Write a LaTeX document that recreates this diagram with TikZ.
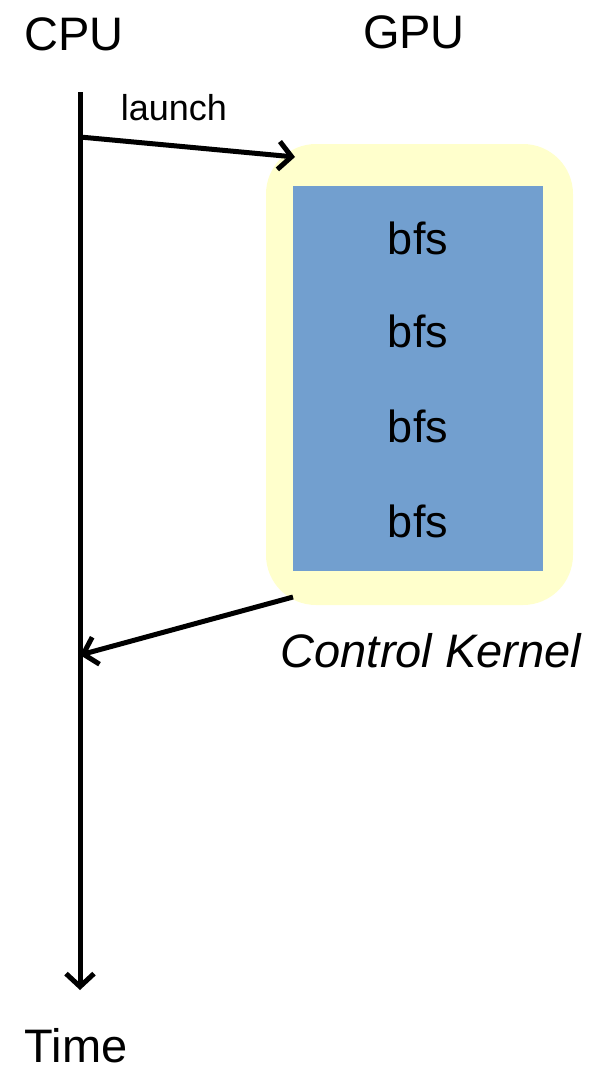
\documentclass[tikz,border=0pt]{standalone}
\usepackage{fontspec}
\setmainfont{Liberation Sans}
\usetikzlibrary{arrows.meta}
\definecolor{kernelbg}{RGB}{255,255,204}
\definecolor{bfsblue}{RGB}{114,159,207}
\tikzset{
  big/.style={font=\fontsize{47}{56}\selectfont, inner sep=0pt, anchor=base},
  bfslabel/.style={font=\fontsize{45}{54}\selectfont, inner sep=0pt, anchor=base},
  flow/.style={line width=5pt, -{Straight Barb[length=13pt,width=28pt,line width=5pt]}},
}
\begin{document}
\begin{tikzpicture}[x=1pt,y=-1pt]
  \useasboundingbox (0,0) rectangle (598,1068);
  % headings
  \node[big] (cpu) at (74,50) {CPU};
  \node[big] (gpu) at (414,48) {GPU};
  \node[big, text depth=0pt] (time) at (76,1062) {Time};
  % control kernel: yellow rounded frame with the blue work area
  \node[draw=none, fill=kernelbg, rounded corners=50pt, minimum width=307pt, minimum height=461pt, inner sep=0pt] (kernel) at (419.5,374.5) {};
  \node[fill=bfsblue, minimum width=250pt, minimum height=385pt, inner sep=0pt] (work) at (418,378.5) {};
  \node[bfslabel] (b1) at (418,254) {bfs};
  \node[bfslabel] (b2) at (418,347) {bfs};
  \node[bfslabel] (b3) at (418,442) {bfs};
  \node[bfslabel] (b4) at (418,537) {bfs};
  \node[font=\fontsize{47}{56}\selectfont\itshape, inner sep=0pt, anchor=base] (ck) at (431,667) {Control Kernel};
  % CPU time line
  \coordinate (ttop) at (80,92);
  \coordinate (tend) at (80,990);
  \coordinate (tlaunch) at (80,137);
  \coordinate (treturn) at (80,655);
  \coordinate (kin) at (295,157);
  \coordinate (kout) at (293,597);
  \draw[flow] (ttop) -- (tend);
  \draw[flow] (tlaunch) -- (kin);
  \draw[flow] (kout) -- (treturn);
  \node[font=\fontsize{36}{43}\selectfont, inner sep=0pt, anchor=base] (launch) at (174,120) {launch};
\end{tikzpicture}
\end{document}
